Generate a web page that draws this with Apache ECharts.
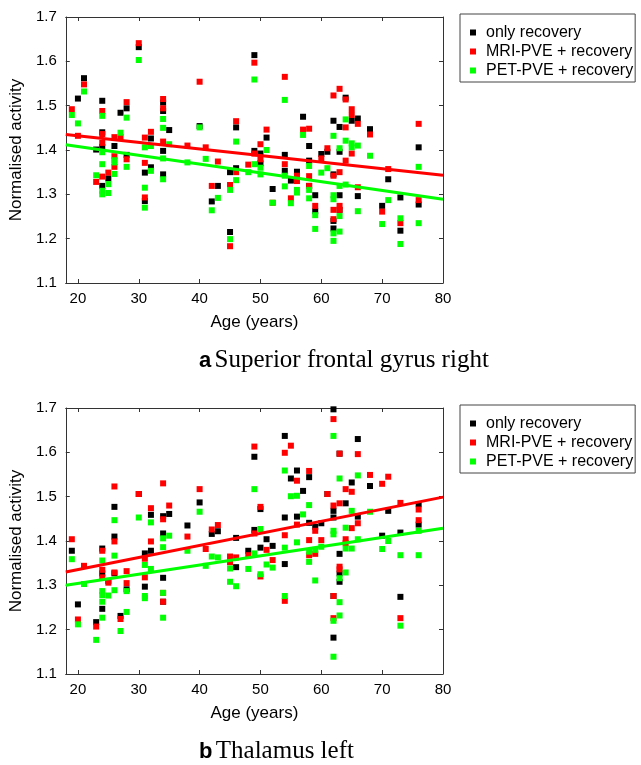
<!DOCTYPE html>
<html lang="en">
<head>
<meta charset="utf-8" />
<title>Normalised activity vs age</title>
<script src="https://cdn.jsdelivr.net/npm/echarts@6/dist/echarts.min.js"></script>
<style>
 body { margin: 0; background: #fff; }
 #main { width: 641px; height: 765px; }
</style>
</head>
<body>
<div id="main"></div>
<script>
var seriesNames = ['only recovery', 'MRI-PVE + recovery', 'PET-PVE + recovery'];
var colors = ['#000000', '#ff0000', '#00ff00'];
var xTicks = [20, 30, 40, 50, 60, 70, 80];
var captions = [['a', 'Superior frontal gyrus right'], ['b', 'Thalamus left']];

// panel a : superior frontal gyrus right
var aOnly = [[20,1.516],[21,1.562],[23,1.401],[24,1.511],[24,1.440],[24,1.407],[24,1.319],[25,1.336],[26,1.409],[27,1.484],
  [28,1.494],[28,1.389],[30,1.632],[31,1.349],[31,1.285],[32,1.426],[32,1.361],[34,1.507],[34,1.488],[34,1.398],[34,1.345],
  [35,1.445],[40,1.454],[42,1.284],[43,1.319],[45,1.350],[45,1.215],[46,1.451],[46,1.359],[49,1.614],[49,1.398],[50,1.392],
  [50,1.370],[51,1.428],[52,1.312],[54,1.389],[54,1.353],[55,1.331],[56,1.351],[57,1.475],[58,1.409],[58,1.376],[58,1.319],
  [59,1.298],[59,1.262],[60,1.391],[61,1.396],[62,1.466],[62,1.345],[62,1.240],[62,1.223],[63,1.452],[63,1.396],[63,1.298],
  [63,1.265],[64,1.518],[65,1.466],[66,1.471],[66,1.296],[68,1.447],[70,1.274],[71,1.334],[73,1.293],[73,1.218],[76,1.406],[76,1.277]];
var aMri = [[19,1.492],[20,1.432],[21,1.548],[23,1.328],[24,1.488],[24,1.436],[24,1.416],[24,1.340],[25,1.349],[26,1.429],
  [26,1.386],[26,1.362],[27,1.429],[28,1.508],[28,1.379],[30,1.641],[31,1.428],[31,1.371],[31,1.293],[32,1.441],[34,1.515],
  [34,1.494],[34,1.419],[38,1.410],[40,1.554],[41,1.406],[42,1.319],[43,1.374],[45,1.321],[45,1.183],[46,1.465],[46,1.350],
  [48,1.367],[49,1.597],[49,1.392],[50,1.413],[50,1.379],[51,1.446],[52,1.281],[54,1.565],[54,1.368],[55,1.291],[56,1.342],
  [56,1.330],[57,1.446],[58,1.448],[58,1.341],[58,1.319],[59,1.274],[60,1.381],[61,1.404],[62,1.523],[62,1.342],[62,1.265],
  [62,1.244],[63,1.538],[63,1.350],[63,1.274],[63,1.265],[64,1.514],[64,1.451],[64,1.376],[65,1.492],[65,1.479],[65,1.392],
  [66,1.459],[66,1.316],[68,1.435],[70,1.261],[71,1.357],[73,1.235],[76,1.459],[76,1.287]];
var aPet = [[19,1.479],[20,1.460],[21,1.532],[23,1.343],[24,1.477],[24,1.395],[24,1.368],[24,1.308],[24,1.300],[25,1.323],
  [25,1.303],[26,1.377],[26,1.372],[26,1.346],[27,1.439],[28,1.473],[28,1.362],[30,1.603],[31,1.406],[31,1.315],[31,1.270],
  [32,1.409],[32,1.353],[34,1.470],[34,1.450],[34,1.381],[34,1.334],[35,1.413],[38,1.372],[40,1.451],[41,1.380],[42,1.264],
  [43,1.292],[45,1.310],[45,1.199],[46,1.419],[46,1.332],[48,1.350],[49,1.559],[49,1.368],[50,1.360],[50,1.345],[51,1.400],
  [52,1.281],[54,1.513],[54,1.342],[54,1.318],[55,1.280],[56,1.310],[56,1.304],[57,1.434],[58,1.364],[58,1.310],[58,1.291],
  [59,1.253],[59,1.222],[60,1.349],[61,1.359],[62,1.432],[62,1.298],[62,1.289],[62,1.212],[62,1.195],[63,1.404],[63,1.319],
  [63,1.251],[63,1.216],[64,1.469],[64,1.421],[64,1.322],[65,1.415],[65,1.406],[66,1.410],[66,1.262],[68,1.387],[70,1.233],
  [71,1.287],[73,1.246],[73,1.188],[76,1.362],[76,1.235]];
var aFitMri = [[18,1.435],[80,1.343]];
var aFitPet = [[18,1.412],[80,1.289]];

// panel b : thalamus left
var bOnly = [[19,1.378],[20,1.257],[23,1.217],[24,1.383],[24,1.327],[24,1.247],[25,1.310],[26,1.477],[26,1.410],[26,1.327],
  [27,1.231],[28,1.291],[30,1.506],[31,1.372],[31,1.297],[32,1.459],[32,1.378],[34,1.456],[34,1.417],[34,1.317],[34,1.263],
  [35,1.461],[38,1.435],[40,1.487],[42,1.416],[43,1.422],[46,1.407],[46,1.341],[48,1.378],[49,1.590],[49,1.425],[50,1.472],
  [50,1.385],[51,1.404],[52,1.389],[54,1.637],[54,1.453],[54,1.348],[55,1.541],[56,1.559],[56,1.455],[57,1.513],[58,1.544],
  [58,1.441],[59,1.432],[60,1.440],[61,1.506],[62,1.697],[62,1.468],[62,1.453],[62,1.276],[62,1.182],[63,1.597],[63,1.371],
  [63,1.327],[63,1.308],[64,1.485],[65,1.532],[66,1.630],[66,1.455],[68,1.524],[70,1.412],[71,1.468],[73,1.419],[73,1.274],
  [76,1.483],[76,1.437]];
var bMri = [[19,1.404],[20,1.223],[21,1.344],[23,1.207],[24,1.378],[24,1.335],[24,1.318],[25,1.306],[26,1.523],[26,1.399],
  [26,1.329],[27,1.224],[28,1.332],[28,1.305],[30,1.506],[31,1.360],[31,1.318],[32,1.474],[32,1.399],[34,1.530],[34,1.449],
  [34,1.283],[34,1.263],[35,1.480],[38,1.410],[40,1.517],[41,1.382],[42,1.426],[43,1.436],[45,1.365],[45,1.352],[46,1.363],
  [48,1.368],[49,1.613],[49,1.417],[50,1.477],[50,1.320],[51,1.380],[52,1.357],[54,1.599],[54,1.413],[54,1.265],[55,1.615],
  [56,1.536],[56,1.437],[58,1.558],[58,1.402],[58,1.368],[59,1.423],[59,1.371],[60,1.402],[61,1.506],[62,1.675],[62,1.480],
  [62,1.276],[62,1.226],[63,1.597],[63,1.485],[63,1.342],[63,1.336],[64,1.517],[64,1.404],[64,1.395],[65,1.511],[65,1.429],
  [66,1.596],[66,1.440],[68,1.549],[70,1.529],[71,1.545],[73,1.486],[73,1.226],[76,1.471],[76,1.447]];
var bPet = [[19,1.359],[20,1.212],[21,1.303],[23,1.177],[24,1.356],[24,1.287],[24,1.278],[24,1.263],[24,1.227],[25,1.277],
  [26,1.447],[26,1.367],[26,1.289],[27,1.197],[28,1.287],[28,1.240],[30,1.453],[31,1.346],[31,1.276],[31,1.271],[32,1.442],
  [32,1.337],[34,1.406],[34,1.386],[34,1.283],[34,1.227],[35,1.412],[38,1.378],[40,1.466],[41,1.344],[42,1.365],[43,1.363],
  [45,1.338],[45,1.308],[46,1.298],[48,1.337],[49,1.517],[49,1.372],[50,1.427],[50,1.325],[51,1.347],[52,1.340],[54,1.559],
  [54,1.385],[54,1.276],[55,1.501],[56,1.502],[56,1.397],[57,1.460],[58,1.481],[58,1.376],[58,1.353],[59,1.380],[59,1.311],
  [60,1.387],[62,1.637],[62,1.423],[62,1.415],[62,1.220],[62,1.139],[63,1.541],[63,1.316],[63,1.262],[63,1.232],[64,1.430],
  [64,1.383],[64,1.329],[65,1.468],[65,1.383],[66,1.548],[66,1.404],[68,1.466],[70,1.382],[71,1.400],[73,1.368],[73,1.209],
  [76,1.423],[76,1.368]];
var bFitMri = [[18,1.330],[80,1.499]];
var bFitPet = [[18,1.300],[80,1.429]];

var panels = [
  { top: 17, scatter: [aOnly, aMri, aPet], fits: [aFitMri, aFitPet] },
  { top: 408, scatter: [bOnly, bMri, bPet], fits: [bFitMri, bFitPet] }
];

var font = 'Liberation Sans';
var axisColor = '#333';

function xAxisFor(g, pos, labels) {
  return {
    type: 'value', gridIndex: g, position: pos, min: 18, max: 80,
    name: labels ? 'Age (years)' : '', nameLocation: 'middle', nameGap: 31,
    nameTextStyle: { fontFamily: font, fontSize: 17, color: '#000' },
    axisLine: { show: true, onZero: false, lineStyle: { color: axisColor, width: 1 } },
    axisTick: { show: true, inside: true, length: 4, customValues: xTicks, lineStyle: { color: axisColor } },
    axisLabel: { show: labels, customValues: xTicks, margin: 8, fontFamily: font, fontSize: 15, color: '#000' },
    splitLine: { show: false }
  };
}

function yAxisFor(g, pos, labels) {
  return {
    type: 'value', gridIndex: g, position: pos, min: 1.1, max: 1.7, interval: 0.1,
    name: labels ? 'Normalised activity' : '', nameLocation: 'middle', nameGap: 37,
    nameTextStyle: { fontFamily: font, fontSize: 17, color: '#000' },
    axisLine: { show: true, onZero: false, lineStyle: { color: axisColor, width: 1 } },
    axisTick: { show: true, inside: true, length: 4, lineStyle: { color: axisColor } },
    axisLabel: { show: labels, margin: 9, fontFamily: font, fontSize: 15, color: '#000',
      formatter: function (v) { return v.toFixed(1); } },
    splitLine: { show: false }
  };
}

var grids = [], xAxes = [], yAxes = [], legends = [], series = [], graphics = [];

panels.forEach(function (p, i) {
  grids.push({ left: 65, top: p.top, width: 378, height: 266 });
  xAxes.push(xAxisFor(i, 'bottom', true), xAxisFor(i, 'top', false));
  yAxes.push(yAxisFor(i, 'left', true), yAxisFor(i, 'right', false));

  p.scatter.forEach(function (d, k) {
    series.push({
      name: seriesNames[k], type: 'scatter', xAxisIndex: i * 2, yAxisIndex: i * 2,
      data: d, symbol: 'rect', symbolSize: 6, z: 2 + k,
      itemStyle: { color: colors[k], opacity: 1 }, silent: true
    });
  });
  p.fits.forEach(function (d, k) {
    series.push({
      name: 'fit ' + seriesNames[k + 1], type: 'line', xAxisIndex: i * 2, yAxisIndex: i * 2,
      data: d, showSymbol: false, z: 6, silent: true,
      lineStyle: { color: colors[k + 1], width: 3 }
    });
  });

  legends.push({
    data: seriesNames, orient: 'vertical', left: 460, top: p.top - 3,
    icon: 'rect', itemWidth: 6, itemHeight: 6, itemGap: 0, selectedMode: false,
    borderColor: '#444', borderWidth: 1, padding: [9, 2, 2, 10],
    textStyle: { fontFamily: font, fontSize: 16, lineHeight: 19, color: '#000', padding: [0, 0, 0, 5] }
  });

  graphics.push({
    type: 'text', left: 199, top: p.top + 331,
    style: {
      text: '{a|' + captions[i][0] + '} {b|' + captions[i][1] + '}',
      rich: {
        a: { fontFamily: font, fontWeight: 'bold', fontSize: 22, fill: '#000' },
        b: { fontFamily: 'Liberation Serif', fontSize: 25, fill: '#000' }
      }
    }
  });
});

var myChart = echarts.init(document.getElementById('main'));
myChart.setOption({
  animation: false,
  backgroundColor: '#fff',
  grid: grids,
  xAxis: xAxes,
  yAxis: yAxes,
  legend: legends,
  series: series,
  graphic: graphics
});
</script>
</body>
</html>
